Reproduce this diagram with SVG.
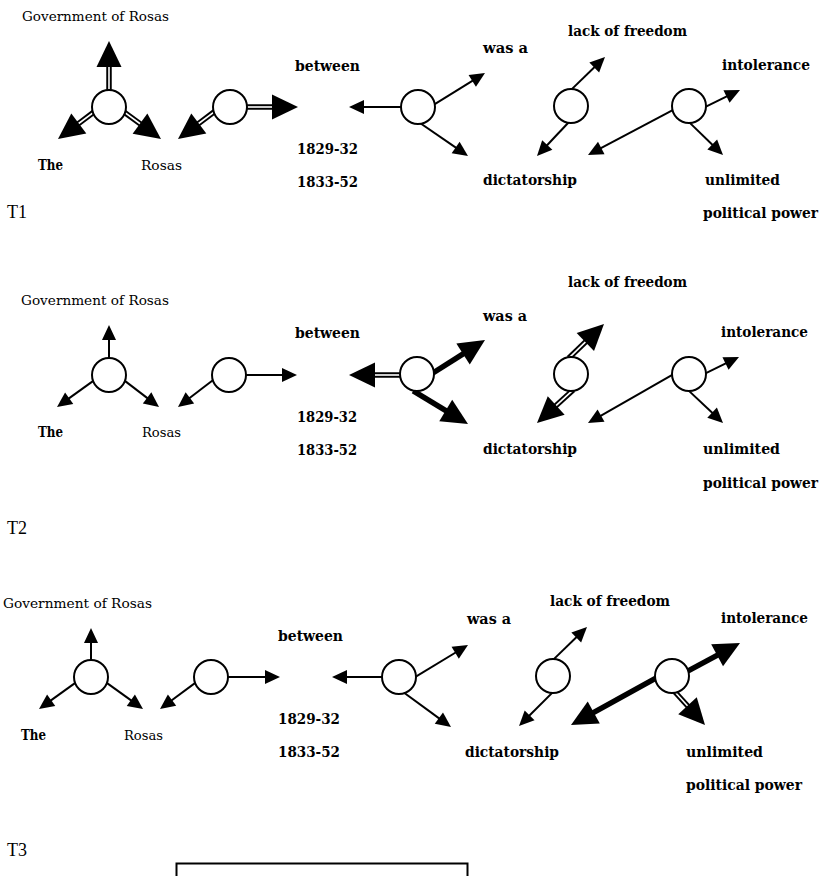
<svg xmlns="http://www.w3.org/2000/svg" xmlns:xlink="http://www.w3.org/1999/xlink" width="824" height="876" viewBox="0 0 824 876">
<style>
.lb{font-family:"DejaVu Serif","Liberation Serif",serif;font-weight:bold;font-size:14.5px;fill:#000}
.lr{font-family:"DejaVu Serif","Liberation Serif",serif;font-size:13.5px;fill:#000}
.tl{font-family:"Liberation Serif","Times New Roman",serif;font-size:18px;fill:#000}
.nd{fill:#fff;stroke:#000;stroke-width:2}
.t{stroke:#000;stroke-width:2}
.k{stroke:#000;stroke-width:5.5}
.w{stroke:#fff;stroke-width:1.6}
</style>
<defs>
<polygon id="hs" points="0,0 -15,-7 -15,7" fill="#000"/>
<polygon id="hb" points="0,0 -26,-12.5 -26,12.5" fill="#000"/>
</defs>
<rect width="824" height="876" fill="#fff"/>
<g id="connectors">
<!-- T1 -->
<g transform="translate(109 41) rotate(-90)"><line x1="-51" x2="-24" class="k"/><line x1="-51" x2="-25" class="w"/><use href="#hb"/></g>
<g transform="translate(58 139) rotate(143.1)"><line x1="-47" x2="-24" class="k"/><line x1="-47" x2="-25" class="w"/><use href="#hb"/></g>
<g transform="translate(161 139) rotate(36.1)"><line x1="-48" x2="-24" class="k"/><line x1="-48" x2="-25" class="w"/><use href="#hb"/></g>
<g transform="translate(178 139) rotate(143.1)"><line x1="-47" x2="-24" class="k"/><line x1="-47" x2="-25" class="w"/><use href="#hb"/></g>
<g transform="translate(298 107) rotate(0)"><line x1="-53" x2="-24" class="k"/><line x1="-53" x2="-25" class="w"/><use href="#hb"/></g>
<g transform="translate(349 107) rotate(180)"><line x1="-54" x2="-13" class="t"/><use href="#hs"/></g>
<g transform="translate(485 73) rotate(-31.8)"><line x1="-61" x2="-13" class="t"/><use href="#hs"/></g>
<g transform="translate(468 156) rotate(34.5)"><line x1="-60" x2="-13" class="t"/><use href="#hs"/></g>
<g transform="translate(605 57) rotate(-44.1)"><line x1="-48" x2="-13" class="t"/><use href="#hs"/></g>
<g transform="translate(537 156) rotate(133.2)"><line x1="-47" x2="-13" class="t"/><use href="#hs"/></g>
<g transform="translate(588 155) rotate(152.1)"><line x1="-98" x2="-13" class="t"/><use href="#hs"/></g>
<g transform="translate(740 90) rotate(-25.9)"><line x1="-39" x2="-13" class="t"/><use href="#hs"/></g>
<g transform="translate(723 155) rotate(44.1)"><line x1="-48" x2="-13" class="t"/><use href="#hs"/></g>
<!-- T2 -->
<g transform="translate(109 325) rotate(-90)"><line x1="-35" x2="-13" class="t"/><use href="#hs"/></g>
<g transform="translate(57 407) rotate(144.2)"><line x1="-46" x2="-13" class="t"/><use href="#hs"/></g>
<g transform="translate(159 407) rotate(37.4)"><line x1="-45" x2="-13" class="t"/><use href="#hs"/></g>
<g transform="translate(178 407) rotate(142.4)"><line x1="-46" x2="-13" class="t"/><use href="#hs"/></g>
<g transform="translate(297 375) rotate(0)"><line x1="-53" x2="-13" class="t"/><use href="#hs"/></g>
<g transform="translate(349 375) rotate(180)"><line x1="-53" x2="-24" class="k"/><line x1="-53" x2="-25" class="w"/><use href="#hb"/></g>
<g transform="translate(485 340) rotate(-32.4)"><line x1="-64" x2="-24" class="k"/><use href="#hb"/></g>
<g transform="translate(468 424) rotate(31.1)"><line x1="-64" x2="-24" class="k"/><use href="#hb"/></g>
<g transform="translate(604 324) rotate(-44.1)"><line x1="-49" x2="-24" class="k"/><line x1="-49" x2="-25" class="w"/><use href="#hb"/></g>
<g transform="translate(537 423) rotate(137.6)"><line x1="-49" x2="-24" class="k"/><line x1="-49" x2="-25" class="w"/><use href="#hb"/></g>
<g transform="translate(588 423) rotate(150.3)"><line x1="-99" x2="-13" class="t"/><use href="#hs"/></g>
<g transform="translate(739 357) rotate(-25.9)"><line x1="-39" x2="-13" class="t"/><use href="#hs"/></g>
<g transform="translate(723 423) rotate(43.3)"><line x1="-49" x2="-13" class="t"/><use href="#hs"/></g>
<!-- T3 -->
<g transform="translate(91 628) rotate(-90)"><line x1="-34" x2="-13" class="t"/><use href="#hs"/></g>
<g transform="translate(39 709) rotate(144.2)"><line x1="-46" x2="-13" class="t"/><use href="#hs"/></g>
<g transform="translate(143 709) rotate(35.8)"><line x1="-46" x2="-13" class="t"/><use href="#hs"/></g>
<g transform="translate(160 709) rotate(143.4)"><line x1="-46" x2="-13" class="t"/><use href="#hs"/></g>
<g transform="translate(280 677) rotate(0)"><line x1="-54" x2="-13" class="t"/><use href="#hs"/></g>
<g transform="translate(332 677) rotate(180)"><line x1="-52" x2="-13" class="t"/><use href="#hs"/></g>
<g transform="translate(468 645) rotate(-31.3)"><line x1="-62" x2="-13" class="t"/><use href="#hs"/></g>
<g transform="translate(451 727) rotate(36.1)"><line x1="-61" x2="-13" class="t"/><use href="#hs"/></g>
<g transform="translate(587 627) rotate(-44.1)"><line x1="-48" x2="-13" class="t"/><use href="#hs"/></g>
<g transform="translate(519 726) rotate(135)"><line x1="-49" x2="-13" class="t"/><use href="#hs"/></g>
<g transform="translate(571 725) rotate(151.1)"><line x1="-99" x2="-24" class="k"/><use href="#hb"/></g>
<g transform="translate(740 643) rotate(-28.3)"><line x1="-61" x2="-24" class="k"/><use href="#hb"/></g>
<g transform="translate(705 725) rotate(47.7)"><line x1="-47" x2="-24" class="k"/><line x1="-47" x2="-25" class="w"/><use href="#hb"/></g>
</g>
<!-- T1 nodes -->
<g id="t1-n1"><circle class="nd" cx="109" cy="107" r="17"/></g>
<g id="t1-n2"><circle class="nd" cx="230" cy="107" r="17"/></g>
<g id="t1-n3"><circle class="nd" cx="418" cy="107" r="17"/></g>
<g id="t1-n4"><circle class="nd" cx="571" cy="106" r="17"/></g>
<g id="t1-n5"><circle class="nd" cx="689" cy="106" r="17"/></g>
<g id="t1-labels">
<text class="lr" x="22" y="21" textLength="147" lengthAdjust="spacingAndGlyphs">Government of Rosas</text>
<text class="lb" x="38" y="170" textLength="25" lengthAdjust="spacingAndGlyphs">The</text>
<text class="lr" x="141" y="170" textLength="41" lengthAdjust="spacingAndGlyphs">Rosas</text>
<text class="lb" x="295" y="71" textLength="65" lengthAdjust="spacingAndGlyphs">between</text>
<text class="lb" x="297" y="154" textLength="61" lengthAdjust="spacingAndGlyphs">1829-32</text>
<text class="lb" x="297" y="187" textLength="61" lengthAdjust="spacingAndGlyphs">1833-52</text>
<text class="lb" x="483" y="53" textLength="45" lengthAdjust="spacingAndGlyphs">was a</text>
<text class="lb" x="568" y="36" textLength="119" lengthAdjust="spacingAndGlyphs">lack of freedom</text>
<text class="lb" x="722" y="70" textLength="88" lengthAdjust="spacingAndGlyphs">intolerance</text>
<text class="lb" x="483" y="185" textLength="94" lengthAdjust="spacingAndGlyphs">dictatorship</text>
<text class="lb" x="705" y="185" textLength="75" lengthAdjust="spacingAndGlyphs">unlimited</text>
<text class="lb" x="703" y="218" textLength="115" lengthAdjust="spacingAndGlyphs">political power</text>
<text class="tl" x="7" y="218">T1</text>
</g>
<!-- T2 nodes -->
<g id="t2-n1"><circle class="nd" cx="109" cy="375" r="17"/></g>
<g id="t2-n2"><circle class="nd" cx="229" cy="375" r="17"/></g>
<g id="t2-n3"><circle class="nd" cx="417" cy="374" r="17"/></g>
<g id="t2-n4"><circle class="nd" cx="571" cy="374" r="17"/></g>
<g id="t2-n5"><circle class="nd" cx="689" cy="374" r="17"/></g>
<g id="t2-labels">
<text class="lr" x="21" y="305" textLength="148" lengthAdjust="spacingAndGlyphs">Government of Rosas</text>
<text class="lb" x="38" y="437" textLength="25" lengthAdjust="spacingAndGlyphs">The</text>
<text class="lr" x="142" y="437" textLength="39" lengthAdjust="spacingAndGlyphs">Rosas</text>
<text class="lb" x="295" y="338" textLength="65" lengthAdjust="spacingAndGlyphs">between</text>
<text class="lb" x="297" y="422" textLength="60" lengthAdjust="spacingAndGlyphs">1829-32</text>
<text class="lb" x="297" y="455" textLength="60" lengthAdjust="spacingAndGlyphs">1833-52</text>
<text class="lb" x="483" y="321" textLength="44" lengthAdjust="spacingAndGlyphs">was a</text>
<text class="lb" x="568" y="287" textLength="119" lengthAdjust="spacingAndGlyphs">lack of freedom</text>
<text class="lb" x="721" y="337" textLength="87" lengthAdjust="spacingAndGlyphs">intolerance</text>
<text class="lb" x="483" y="454" textLength="94" lengthAdjust="spacingAndGlyphs">dictatorship</text>
<text class="lb" x="703" y="454" textLength="77" lengthAdjust="spacingAndGlyphs">unlimited</text>
<text class="lb" x="703" y="488" textLength="115" lengthAdjust="spacingAndGlyphs">political power</text>
<text class="tl" x="7" y="534">T2</text>
</g>
<!-- T3 nodes -->
<g id="t3-n1"><circle class="nd" cx="91" cy="677" r="17"/></g>
<g id="t3-n2"><circle class="nd" cx="211" cy="677" r="17"/></g>
<g id="t3-n3"><circle class="nd" cx="399" cy="677" r="17"/></g>
<g id="t3-n4"><circle class="nd" cx="553" cy="676" r="17"/></g>
<g id="t3-n5"><circle class="nd" cx="672" cy="676" r="17"/></g>
<g id="t3-labels">
<text class="lr" x="3" y="608" textLength="149" lengthAdjust="spacingAndGlyphs">Government of Rosas</text>
<text class="lb" x="21" y="740" textLength="25" lengthAdjust="spacingAndGlyphs">The</text>
<text class="lr" x="124" y="740" textLength="39" lengthAdjust="spacingAndGlyphs">Rosas</text>
<text class="lb" x="278" y="641" textLength="65" lengthAdjust="spacingAndGlyphs">between</text>
<text class="lb" x="278" y="724" textLength="62" lengthAdjust="spacingAndGlyphs">1829-32</text>
<text class="lb" x="278" y="757" textLength="62" lengthAdjust="spacingAndGlyphs">1833-52</text>
<text class="lb" x="467" y="624" textLength="44" lengthAdjust="spacingAndGlyphs">was a</text>
<text class="lb" x="550" y="606" textLength="120" lengthAdjust="spacingAndGlyphs">lack of freedom</text>
<text class="lb" x="721" y="623" textLength="87" lengthAdjust="spacingAndGlyphs">intolerance</text>
<text class="lb" x="465" y="757" textLength="94" lengthAdjust="spacingAndGlyphs">dictatorship</text>
<text class="lb" x="686" y="757" textLength="77" lengthAdjust="spacingAndGlyphs">unlimited</text>
<text class="lb" x="686" y="790" textLength="116" lengthAdjust="spacingAndGlyphs">political power</text>
<text class="tl" x="7" y="856">T3</text>
</g>
<g id="box"><path d="M176.5,877 V863.5 H467.5 V877" fill="none" stroke="#000" stroke-width="2"/></g>
</svg>
